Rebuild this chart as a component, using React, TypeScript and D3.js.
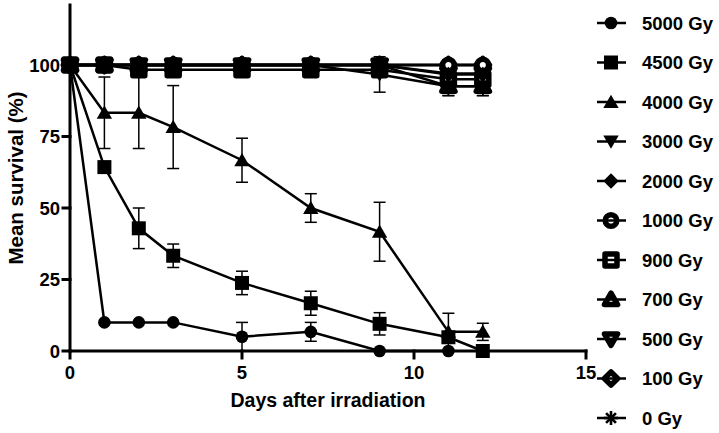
import React from "react";
import * as d3 from "d3";

const days = [0, 1, 2, 3, 5, 7, 9, 11, 12];
const labels = ["5000 Gy", "4500 Gy", "4000 Gy", "3000 Gy", "2000 Gy", "1000 Gy", "900 Gy", "700 Gy", "500 Gy", "100 Gy", "0 Gy"];
const shapes = ["circle", "square", "triangle", "down", "diamond", "circle", "square", "triangle", "down", "diamond", "star"];
const filled = [true, true, true, true, true, false, false, false, false, false, true];

const v5000 = [100, 10, 10, 10, 5, 6.7, 0, 0, null];
const e5000 = [0, 0, 0, 0, 5, 3.3, 0, 0, 0];
const v4500 = [100, 64.3, 42.9, 33.3, 23.8, 16.7, 9.5, 4.8, 0];
const e4500 = [0, 0, 7.1, 4.1, 4.1, 4.2, 3.9, 0, 0];
const v4000 = [100, 83.3, 83.3, 78.3, 66.7, 50, 41.7, 6.7, 6.7];
const e4000 = [0, 12.5, 12.5, 14.5, 7.7, 5, 10.3, 6.5, 3];
const v3000 = [100, 100, 100, 100, 100, 100, 96.7, 92.6, 92.6];
const e3000 = [0, 0, 0, 0, 0, 0, 6.2, 3.3, 3.3];
const v2000 = [100, 100, 100, 100, 100, 100, 100, 96.7, 96.7];
const e2000 = [0, 0, 0, 0, 0, 0, 0, 3.3, 3.3];
const v1000 = [100, 100, 100, 100, 100, 100, 100, 100, 100];
const e1000 = [0, 0, 0, 0, 0, 0, 0, 0, 0];
const v900 = [100, 100, 98.3, 98.3, 98.3, 98.3, 98.3, 95, 95];
const e900 = [0, 0, 0, 0, 0, 0, 0, 0, 0];
const v700 = [100, 100, 100, 100, 100, 100, 100, 92.6, 92.6];
const e700 = [0, 0, 0, 0, 0, 0, 0, 3.3, 3.3];
const v500 = [100, 100, 100, 100, 100, 100, 100, 97, 97];
const e500 = [0, 0, 0, 0, 0, 0, 0, 0, 0];
const v100 = [100, 100, 100, 100, 100, 100, 100, 100, 100];
const e100 = [0, 0, 0, 0, 0, 0, 0, 0, 0];
const v0 = [100, 100, 100, 100, 100, 100, 100, 100, 100];
const e0 = [0, 0, 0, 0, 0, 0, 0, 0, 0];

const values = [v5000, v4500, v4000, v3000, v2000, v1000, v900, v700, v500, v100, v0];
const errors = [e5000, e4500, e4000, e3000, e2000, e1000, e900, e700, e500, e100, e0];

const xTicks = [0, 5, 10, 15];
const yTicks = [0, 25, 50, 75, 100];

const FONT = "'Liberation Sans', Arial, Helvetica, sans-serif";

function markerPath(shape: string, filledM: boolean): string {
  const s = filledM ? 7 : 6;
  switch (shape) {
    case "circle": {
      const r = filledM ? 6.3 : 5.8;
      return `M${-r},0A${r},${r} 0 1,0 ${r},0A${r},${r} 0 1,0 ${-r},0Z`;
    }
    case "square":
      return `M${-s},${-s}H${s}V${s}H${-s}Z`;
    case "triangle":
      return `M0,${-s * 1.05}L${s * 1.1},${s * 0.85}L${-s * 1.1},${s * 0.85}Z`;
    case "down":
      return `M0,${s * 1.05}L${s * 1.1},${-s * 0.85}L${-s * 1.1},${-s * 0.85}Z`;
    case "diamond":
      return `M0,${-s * 1.1}L${s * 1.1},0L0,${s * 1.1}L${-s * 1.1},0Z`;
    default:
      return "";
  }
}

function Marker({ shape, isFilled, x, y }: { shape: string; isFilled: boolean; x: number; y: number }) {
  if (shape === "star") {
    const r = 7;
    return (
      <g transform={`translate(${x},${y})`} stroke="#000" strokeWidth={2.6}>
        {[0, 45, 90, 135].map((a) => (
          <line key={a} x1={-r * Math.cos((a * Math.PI) / 180)} y1={-r * Math.sin((a * Math.PI) / 180)} x2={r * Math.cos((a * Math.PI) / 180)} y2={r * Math.sin((a * Math.PI) / 180)} />
        ))}
      </g>
    );
  }
  return (
    <path
      transform={`translate(${x},${y})`}
      d={markerPath(shape, isFilled)}
      fill={isFilled ? "#000" : "#fff"}
      stroke="#000"
      strokeWidth={isFilled ? 0 : 5.5}
      strokeLinejoin="round"
    />
  );
}

export default function App() {
  const W = 719;
  const H = 433;
  const x = d3.scaleLinear().domain([0, 15]).range([70, 586]);
  const y = d3.scaleLinear().domain([0, 100]).range([351, 65]);
  const yTop = y(121);

  const line = d3
    .line<[number, number | null]>()
    .defined((d) => d[1] !== null)
    .x((d) => x(d[0]))
    .y((d) => y(d[1] as number));

  const order = [10, 9, 8, 7, 6, 5, 4, 3, 2, 1, 0];

  return (
    <svg width={W} height={H} style={{ position: "absolute", left: 0, top: 0, background: "#fff" }} fontFamily={FONT} fontWeight="bold">
      <rect width={W} height={H} fill="#fff" />
      {/* error bars */}
      {order.map((si) => (
        <g key={"e" + si} stroke="#000" strokeWidth={1.5}>
          {days.map((d, i) => {
            const v = values[si][i];
            const e = errors[si][i];
            if (v === null || !e) return null;
            const cx = x(d);
            const y1 = y(v + e);
            const y2 = y(Math.max(0, v - e));
            return (
              <g key={i}>
                <line x1={cx} x2={cx} y1={y1} y2={y2} />
                <line x1={cx - 6} x2={cx + 6} y1={y1} y2={y1} />
                {v - e > 0 && <line x1={cx - 6} x2={cx + 6} y1={y2} y2={y2} />}
              </g>
            );
          })}
        </g>
      ))}
      {/* lines */}
      {order.map((si) => (
        <path
          key={"l" + si}
          d={line(days.map((d, i) => [d, values[si][i]] as [number, number | null])) || ""}
          fill="none"
          stroke="#000"
          strokeWidth={2.5}
        />
      ))}
      {/* markers */}
      {order.map((si) => (
        <g key={"m" + si}>
          {days.map((d, i) => {
            const v = values[si][i];
            if (v === null) return null;
            return <Marker key={i} shape={shapes[si]} isFilled={filled[si]} x={x(d)} y={y(v)} />;
          })}
        </g>
      ))}
      {/* axes */}
      <g stroke="#000" strokeWidth={3} strokeLinecap="square">
        <line x1={x(0)} x2={x(0)} y1={yTop} y2={y(0)} />
        <line x1={x(0)} x2={x(15)} y1={y(0)} y2={y(0)} />
        {yTicks.map((t) => (
          <line key={"yt" + t} x1={x(0) - 7} x2={x(0)} y1={y(t)} y2={y(t)} />
        ))}
        {xTicks.map((t) => (
          <line key={"xt" + t} x1={x(t)} x2={x(t)} y1={y(0)} y2={y(0) + 7} />
        ))}
      </g>
      {yTicks.map((t) => (
        <text key={"yl" + t} x={x(0) - 10} y={y(t)} dy="0.36em" textAnchor="end" fontSize={18.5} fill="#000">
          {t}
        </text>
      ))}
      {xTicks.map((t) => (
        <text key={"xl" + t} x={x(t)} y={379} textAnchor="middle" fontSize={18.5} fill="#000">
          {t}
        </text>
      ))}
      <text x={(x(0) + x(15)) / 2} y={407} textAnchor="middle" fontSize={19.5} fill="#000">
        Days after irradiation
      </text>
      <text transform={`translate(23,${(yTop + y(0)) / 2}) rotate(-90)`} textAnchor="middle" fontSize={20.5} fill="#000">
        Mean survival (%)
      </text>
      {/* legend */}
      {labels.map((lab, i) => {
        const ly = 23 + i * 39.5;
        return (
          <g key={"lg" + i}>
            <Marker shape={shapes[i]} isFilled={filled[i]} x={611} y={ly} />
            <line x1={597} x2={626} y1={ly} y2={ly} stroke="#000" strokeWidth={2.5} />
            <text x={642} y={ly} dy="0.36em" fontSize={18.5} fill="#000">
              {lab}
            </text>
          </g>
        );
      })}
    </svg>
  );
}
